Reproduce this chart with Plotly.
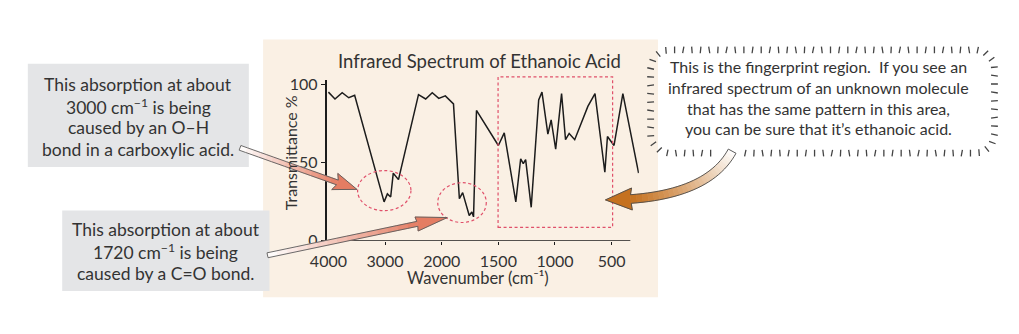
import math
import plotly.graph_objects as go

W, H = 1019, 334

# ---- spectrum data: wavenumber (cm^-1) vs transmittance (%) ----
wavenumber = [4000, 3884, 3757, 3641, 3537, 3017, 2959, 2901, 2855, 2763,
              2410, 2283, 2167, 2052, 1968, 1896, 1844, 1815, 1757, 1734,
              1719, 1693, 1500, 1448, 1346, 1303, 1280, 1259, 1210, 1144,
              1115, 1063, 1034, 994, 942, 907, 875, 826, 710, 647,
              560, 537, 479, 401, 262]
transmittance = [94.9, 90.5, 94.5, 91.3, 92.9, 24.8, 29.9, 27.9, 43.1, 39.0,
                 93.3, 90.5, 94.5, 90.9, 92.5, 87.4, 26.8, 30.7, 16.1, 18.3,
                 15.2, 83.2, 60.8, 68.9, 24.8, 52.3, 49.2, 51.8, 21.3, 89.9,
                 94.9, 68.1, 77.1, 58.4, 93.9, 64.5, 68.5, 64.5, 85.8, 93.9,
                 43.7, 66.5, 60.8, 93.9, 43.1]

x_ticks = [4000, 3000, 2000, 1500, 1000, 500]
y_ticks = [0, 50, 100]

title_text = "Infrared Spectrum of Ethanoic Acid"
x_title = "Wavenumber (cm⁻¹)"
y_title = "Transmittance %"

note_oh = ["This absorption at about", "3000 cm<sup>−1</sup> is being",
           "caused by an O–H", "bond in a carboxylic acid."]
note_co = ["This absorption at about", "1720 cm<sup>−1</sup> is being",
           "caused by a C=O bond."]
note_fp = ["This is the fingerprint region.  If you see an",
           "infrared spectrum of an unknown molecule",
           "that has the same pattern in this area,",
           "you can be sure that it’s ethanoic acid."]


def axis_pos(w):
    """IR charts change scale at 2000 cm^-1: below it each unit is twice as wide."""
    return 4000 - w if w >= 2000 else 2000 + 2 * (2000 - w)


def px(x):
    return x / W


def py(y):
    return 1 - y / H


TEXT = "#333333"
FONT = "Lato"

fig = go.Figure()
fig.add_trace(go.Scatter(
    x=[axis_pos(w) for w in wavenumber], y=transmittance,
    mode="lines", line=dict(color="#1c1c1c", width=1.5),
    hoverinfo="skip", showlegend=False))

shapes = []
annotations = []

# panel and note boxes behind everything
shapes.append(dict(type="rect", xref="paper", yref="paper", layer="below",
                   x0=px(249.5), x1=px(651.5), y0=py(305), y1=py(35),
                   fillcolor="#FAF0E4", line=dict(width=0)))
shapes.append(dict(type="rect", xref="paper", yref="paper", layer="below",
                   x0=px(10), x1=px(235), y0=py(168.5), y1=py(60.5),
                   fillcolor="#E4E5E7", line=dict(width=0)))
shapes.append(dict(type="rect", xref="paper", yref="paper", layer="below",
                   x0=px(45), x1=px(256), y0=py(298.5), y1=py(214),
                   fillcolor="#E4E5E7", line=dict(width=0)))

# x axis baseline stops short of the right end of the trace
shapes.append(dict(type="line", xref="x", yref="y", x0=-17, x1=axis_pos(335),
                   y0=0, y1=0, line=dict(color="#1c1c1c", width=1.5)))

# dashed highlight marks
RED = "#E0506A"
dash = dict(color=RED, width=1.2, dash="3px,2.5px")
shapes.append(dict(type="circle", xref="paper", yref="paper",
                   x0=px(345.7), x1=px(400), y0=py(214.3), y1=py(172.3), line=dash))
shapes.append(dict(type="circle", xref="paper", yref="paper",
                   x0=px(427.3), x1=px(476.7), y0=py(226.7), y1=py(185), line=dash))
shapes.append(dict(type="rect", xref="paper", yref="paper",
                   x0=px(488.7), x1=px(605.3), y0=py(231.7), y1=py(74.3), line=dash))


def hexmix(c0, c1, t):
    a = [int(c0[i:i + 2], 16) for i in (1, 3, 5)]
    b = [int(c1[i:i + 2], 16) for i in (1, 3, 5)]
    return "#" + "".join("%02x" % round(a[k] + (b[k] - a[k]) * t) for k in range(3))


def path_of(pts, close=True):
    s = "M " + " L ".join("%.5f,%.5f" % (px(x), py(y)) for x, y in pts)
    return s + (" Z" if close else "")


def arrow(centre, half_w, head_len, head_hw, c_tail, c_head, edge="#5a5a5a"):
    """Arrow along a polyline of pixel points, shaft shaded from tail to head."""
    tip = centre[-1]
    total = 0
    neck_i = len(centre) - 1
    while neck_i > 0 and total < head_len * 0.75:
        x0, y0 = centre[neck_i]
        x1, y1 = centre[neck_i - 1]
        total += math.hypot(x1 - x0, y1 - y0)
        neck_i -= 1
    shaft = centre[:neck_i + 1]
    left, right = [], []
    for i, (x, y) in enumerate(shaft):
        a = shaft[max(i - 1, 0)]
        b = shaft[min(i + 1, len(shaft) - 1)]
        dx, dy = b[0] - a[0], b[1] - a[1]
        L = math.hypot(dx, dy) or 1
        nx, ny = -dy / L, dx / L
        left.append((x + nx * half_w, y + ny * half_w))
        right.append((x - nx * half_w, y - ny * half_w))
    n = len(shaft) - 1
    for i in range(n):
        col = hexmix(c_tail, c_head, (i + 0.5) / n)
        quad = [left[i], left[i + 1], right[i + 1], right[i]]
        shapes.append(dict(type="path", xref="paper", yref="paper",
                           path=path_of(quad), fillcolor=col,
                           line=dict(color=col, width=0.6)))
    nx0, ny0 = shaft[-1]
    dx, dy = tip[0] - nx0, tip[1] - ny0
    L = math.hypot(dx, dy)
    ux, uy = dx / L, dy / L
    vx, vy = -uy, ux
    bx, by = tip[0] - ux * head_len, tip[1] - uy * head_len
    barb_l = (bx + vx * head_hw, by + vy * head_hw)
    barb_r = (bx - vx * head_hw, by - vy * head_hw)
    head = [left[-1], barb_l, tip, barb_r, right[-1]]
    shapes.append(dict(type="path", xref="paper", yref="paper",
                       path=path_of(head), fillcolor=c_head,
                       line=dict(color=c_head, width=0.6)))
    outline = left + [barb_l, tip, barb_r] + right[::-1]
    shapes.append(dict(type="path", xref="paper", yref="paper",
                       path=path_of(outline), line=dict(color=edge, width=0.9)))


def straight(p0, p1, n=18):
    return [(p0[0] + (p1[0] - p0[0]) * k / n, p0[1] + (p1[1] - p0[1]) * k / n)
            for k in range(n + 1)]


def bezier(p0, c, p1, n=30):
    pts = []
    for k in range(n + 1):
        t = k / n
        x = (1 - t) ** 2 * p0[0] + 2 * (1 - t) * t * c[0] + t * t * p1[0]
        y = (1 - t) ** 2 * p0[1] + 2 * (1 - t) * t * c[1] + t * t * p1[1]
        pts.append((x, y))
    return pts


arrow(straight((226, 148.5), (345, 192)), 2.6, 24, 9, "#ffffff", "#E47D63")
arrow(straight((254, 261), (437, 221.5)), 2.6, 32, 7.5, "#ffffff", "#E47D63")
arrow(bezier((727, 152), (700, 203), (598, 203)), 4.5, 27, 11.5,
      "#ffffff", "#C5711F", edge="#4a4a4a")

# speech bubble: short hatch strokes around a rounded rectangle
bx0, by0, bx1, by1, rad = 644, 46, 994, 154, 20
segs = []
segs.append(("line", (bx0 + rad, by0), (bx1 - rad, by0), (0, -1)))
segs.append(("arc", (bx1 - rad, by0 + rad), -90, 0))
segs.append(("line", (bx1, by0 + rad), (bx1, by1 - rad), (1, 0)))
segs.append(("arc", (bx1 - rad, by1 - rad), 0, 90))
segs.append(("line", (bx1 - rad, by1), (bx0 + rad, by1), (0, 1)))
segs.append(("arc", (bx0 + rad, by1 - rad), 90, 180))
segs.append(("line", (bx0, by1 - rad), (bx0, by0 + rad), (-1, 0)))
segs.append(("arc", (bx0 + rad, by0 + rad), 180, 270))

samples = []
for s in segs:
    if s[0] == "line":
        (x0, y0), (x1, y1), nrm = s[1], s[2], s[3]
        L = math.hypot(x1 - x0, y1 - y0)
        samples.append((L, lambda t, a=(x0, y0), b=(x1, y1), n=nrm:
                        ((a[0] + (b[0] - a[0]) * t, a[1] + (b[1] - a[1]) * t), n)))
    else:
        c, a0, a1 = s[1], s[2], s[3]
        L = math.radians(a1 - a0) * rad
        samples.append((L, lambda t, c=c, a0=a0, a1=a1:
                        ((c[0] + rad * math.cos(math.radians(a0 + (a1 - a0) * t)),
                          c[1] + rad * math.sin(math.radians(a0 + (a1 - a0) * t))),
                         (math.cos(math.radians(a0 + (a1 - a0) * t)),
                          math.sin(math.radians(a0 + (a1 - a0) * t))))))

perim = sum(L for L, _ in samples)
step = 8.8
count = int(perim // step)
tilts = [0.0, 0.18, -0.08, 0.1, -0.16, 0.05, 0.2, -0.12, 0.0, 0.14]
hatch = []
for k in range(count):
    d = (k + 0.5) * perim / count
    for L, f in samples:
        if d <= L:
            (cx, cy), (nx, ny) = f(d / L)
            break
        d -= L
    if by1 - 2 < cy and 713 < cx < 737:
        continue
    a = tilts[k % len(tilts)]
    tx = nx * math.cos(a) - ny * math.sin(a)
    ty = nx * math.sin(a) + ny * math.cos(a)
    half = 3.5
    hatch.append("M %.5f,%.5f L %.5f,%.5f" % (px(cx - tx * half), py(cy - ty * half),
                                              px(cx + tx * half), py(cy + ty * half)))
shapes.append(dict(type="path", xref="paper", yref="paper", path=" ".join(hatch),
                   line=dict(color="#444444", width=1.3)))


def label(text, x, y, size, angle=0, color=TEXT):
    annotations.append(dict(text=text, xref="paper", yref="paper",
                            x=px(x), y=py(y), xanchor="center", yanchor="middle",
                            showarrow=False, textangle=angle,
                            font=dict(family=FONT, size=size, color=color)))


label(title_text, 470, 58, 18.5)
label(x_title, 468, 285, 16.5)
label(y_title, 277, 154, 16, angle=-90)

for txt, y in zip(note_oh, [82.5, 105, 127.5, 150]):
    label(txt, 122.5, y, 17.5)
for txt, y in zip(note_co, [234.5, 257.5, 280.5]):
    label(txt, 150.5, y, 17.5)
for txt, y in zip(note_fp, [63, 85.5, 107, 128.5]):
    label(txt, 815, y, 16)

fig.update_layout(
    width=W, height=H,
    margin=dict(l=0, r=0, t=0, b=0),
    paper_bgcolor="#ffffff", plot_bgcolor="rgba(0,0,0,0)",
    shapes=shapes, annotations=annotations, showlegend=False,
    xaxis=dict(domain=[315 / W, 632 / W], range=[-17.3, 5480],
               tickvals=[axis_pos(w) for w in x_ticks],
               ticktext=[str(w) for w in x_ticks],
               showgrid=False, zeroline=False, showline=False,
               ticks="outside", ticklen=3, tickcolor="#1c1c1c",
               ticklabelstandoff=3,
               tickfont=dict(family=FONT, size=16, color=TEXT),
               fixedrange=True),
    yaxis=dict(domain=[(H - 245.7) / H, (H - 77.7) / H], range=[0, 102.5],
               tickvals=y_ticks, ticktext=[str(v) for v in y_ticks],
               showgrid=False, zeroline=False, showline=True,
               linecolor="#1c1c1c", linewidth=1.5,
               ticks="outside", ticklen=5, tickcolor="#1c1c1c",
               tickfont=dict(family=FONT, size=16, color=TEXT),
               fixedrange=True),
)

fig.write_html("out.html", config={"displayModeBar": False})
